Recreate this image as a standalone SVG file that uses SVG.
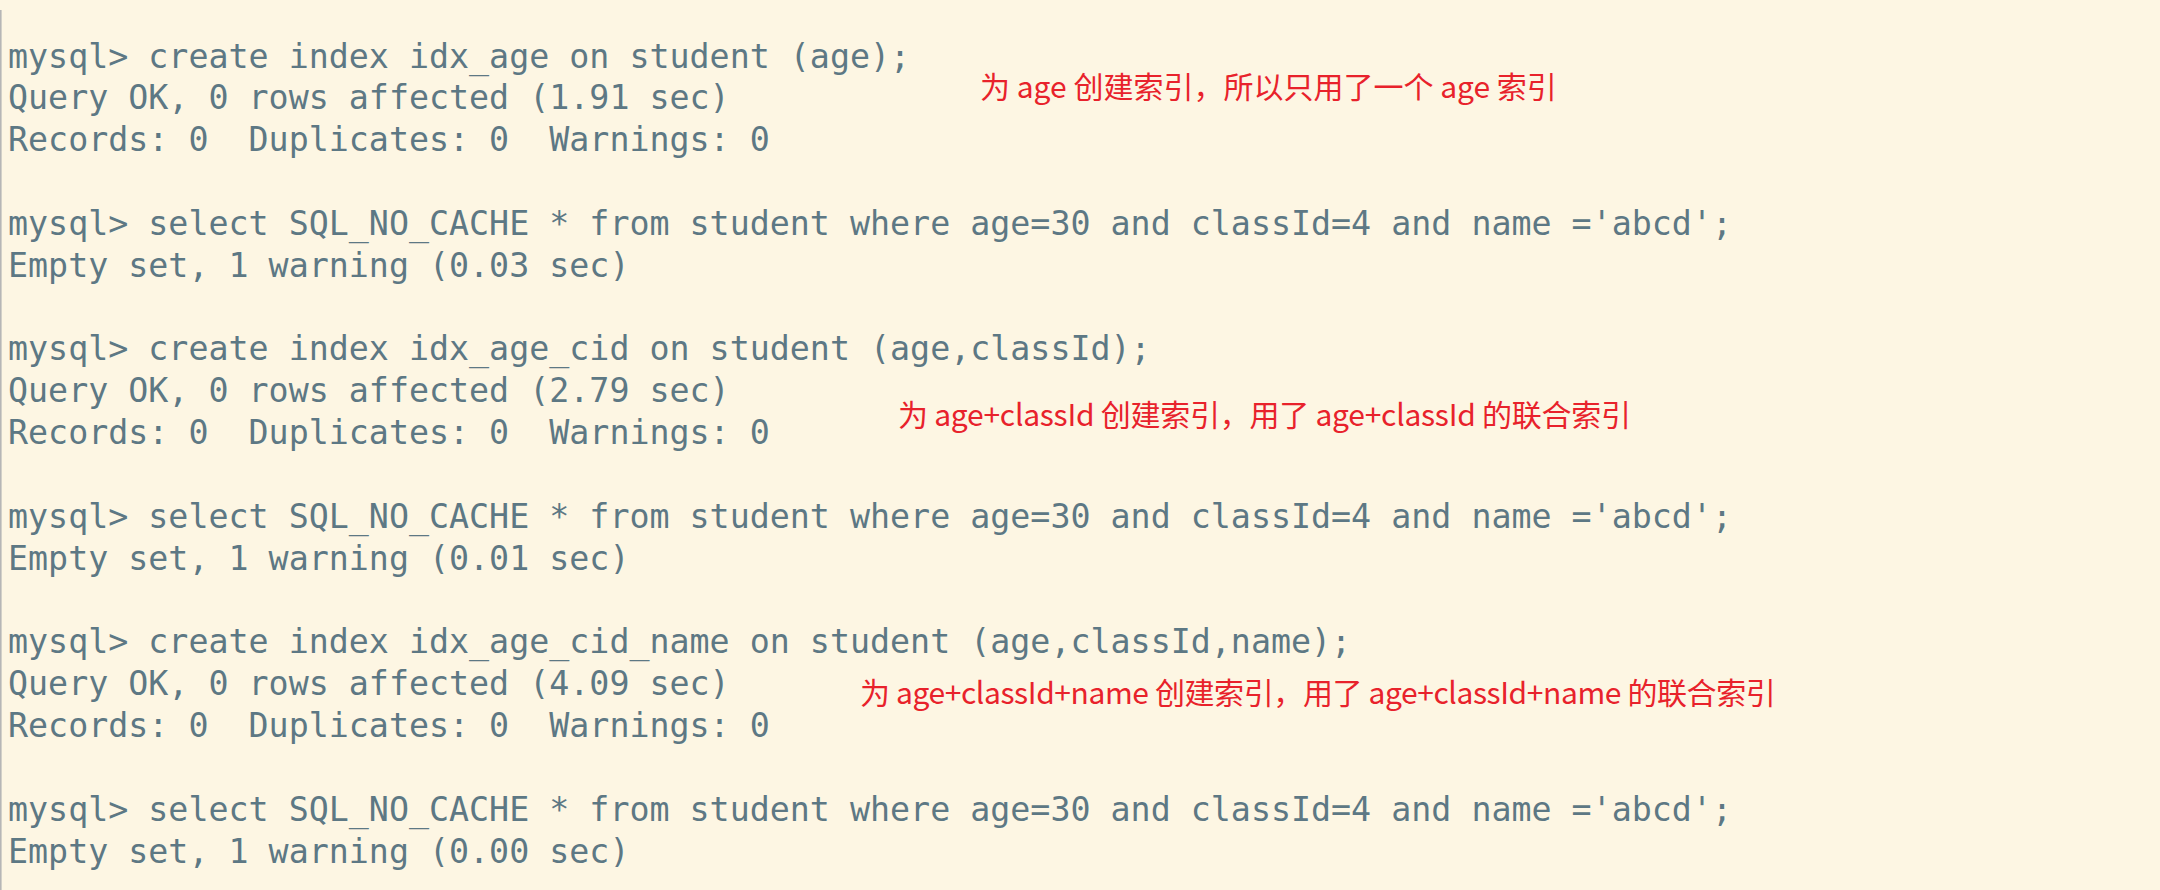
<svg xmlns="http://www.w3.org/2000/svg" width="2160" height="890" viewBox="0 0 2160 890">
<style>
.t{font-family:"DejaVu Sans Mono","Liberation Mono",monospace;font-size:33.3px;fill:#5d7884;white-space:pre}
.n{font-family:"Noto Sans CJK SC","Noto Sans",sans-serif;font-size:30px;fill:#e8222b;white-space:pre}
</style>
<rect x="0" y="0" width="2160" height="890" fill="#fdf6e3"/>
<rect x="0" y="10" width="1.6" height="880" fill="#b6b6b6"/>
<g id="terminal">
<text class="t" x="8" y="67.5">mysql&gt; create index idx_age on student (age);</text>
<text class="t" x="8" y="109.35">Query OK, 0 rows affected (1.91 sec)</text>
<text class="t" x="8" y="151.2">Records: 0  Duplicates: 0  Warnings: 0</text>
<text class="t" x="8" y="234.9">mysql&gt; select SQL_NO_CACHE * from student where age=30 and classId=4 and name ='abcd';</text>
<text class="t" x="8" y="276.75">Empty set, 1 warning (0.03 sec)</text>
<text class="t" x="8" y="360.45">mysql&gt; create index idx_age_cid on student (age,classId);</text>
<text class="t" x="8" y="402.3">Query OK, 0 rows affected (2.79 sec)</text>
<text class="t" x="8" y="444.15">Records: 0  Duplicates: 0  Warnings: 0</text>
<text class="t" x="8" y="527.85">mysql&gt; select SQL_NO_CACHE * from student where age=30 and classId=4 and name ='abcd';</text>
<text class="t" x="8" y="569.7">Empty set, 1 warning (0.01 sec)</text>
<text class="t" x="8" y="653.4">mysql&gt; create index idx_age_cid_name on student (age,classId,name);</text>
<text class="t" x="8" y="695.25">Query OK, 0 rows affected (4.09 sec)</text>
<text class="t" x="8" y="737.1">Records: 0  Duplicates: 0  Warnings: 0</text>
<text class="t" x="8" y="820.8">mysql&gt; select SQL_NO_CACHE * from student where age=30 and classId=4 and name ='abcd';</text>
<text class="t" x="8" y="862.65">Empty set, 1 warning (0.00 sec)</text>
</g>
<g id="notes">
<text class="n" x="980" y="98">为 age 创建索引，所以只用了一个 age 索引</text>
<text class="n" x="898" y="426" letter-spacing="-0.25">为 age+classId 创建索引，用了 age+classId 的联合索引</text>
<text class="n" x="860" y="704" letter-spacing="-0.4">为 age+classId+name 创建索引，用了 age+classId+name 的联合索引</text>
</g>
</svg>
